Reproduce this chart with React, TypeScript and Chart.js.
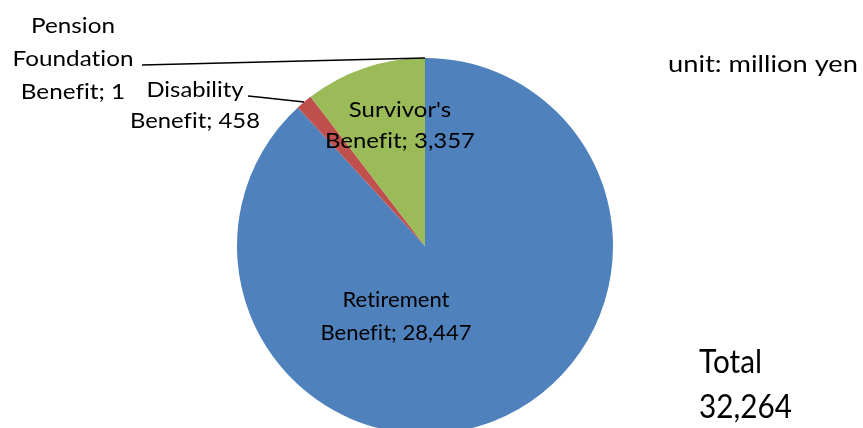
import React, { useEffect, useRef } from "react";
import { Chart, registerables } from "chart.js";

Chart.register(...registerables);

// ---- data ----
const categories = [
  "Retirement Benefit",
  "Disability Benefit",
  "Survivor's Benefit",
  "Pension Foundation Benefit",
];
const values = [28447, 458, 3357, 1];
const colors = ["#4F81BD", "#C0504D", "#9BBB59", "#8064A2"];
const totalLines = ["Total", "32,264"];
const unitText = "unit: million yen";

// ---- layout / style ----
const FONT = "Lato, 'Open Sans', sans-serif";
const W = 863;
const H = 450;

type Layout = {
  cx: number;
  baselines: number[];
  words: number[];
  size: number;
  fitWidth: number;
  leader: number[][] | null;
};

const labelLayout: Layout[] = [
  { cx: 396, baselines: [306.5, 339.5], words: [1, 2], size: 21, fitWidth: 151, leader: null },
  { cx: 195, baselines: [96.5, 128], words: [1, 2], size: 22, fitWidth: 130, leader: [[248, 96], [258, 97]] },
  { cx: 400, baselines: [117, 147.5], words: [1, 2], size: 22, fitWidth: 150, leader: null },
  { cx: 73, baselines: [32.5, 66, 99], words: [1, 1, 2], size: 22, fitWidth: 121, leader: [[142, 65]] },
];

function splitLines(text: string, counts: number[]): string[] {
  const words = text.split(" ");
  const out: string[] = [];
  let i = 0;
  counts.forEach((c, k) => {
    const n = k === counts.length - 1 ? words.length - i : c;
    out.push(words.slice(i, i + n).join(" "));
    i += n;
  });
  return out;
}

function setup(ctx: any, size: number) {
  ctx.font = `${size}px ${FONT}`;
  try {
    ctx.textRendering = "optimizeSpeed";
    ctx.letterSpacing = "0.01px";
  } catch (e) {}
}

// draws lines with a horizontal scale so the widest line matches the target width
function drawBlock(
  ctx: CanvasRenderingContext2D,
  lines: string[],
  x: number,
  baselines: number[],
  size: number,
  target: number,
  align: "center" | "left"
) {
  setup(ctx, size);
  const w = Math.max(...lines.map((l) => ctx.measureText(l).width));
  const sx = target / w;
  ctx.textAlign = align;
  lines.forEach((l, k) => {
    ctx.save();
    ctx.translate(x, baselines[k]);
    ctx.scale(sx, 1);
    ctx.fillText(l, 0, 0);
    ctx.restore();
  });
}

const labelPlugin = {
  id: "customLabels",
  afterDatasetsDraw(chart: any) {
    const ctx: CanvasRenderingContext2D = chart.ctx;
    const meta = chart.getDatasetMeta(0);
    ctx.save();
    ctx.fillStyle = "#000";
    ctx.textBaseline = "alphabetic";
    meta.data.forEach((arc: any, i: number) => {
      const lay = labelLayout[i];
      if (!lay) return;
      const text = `${categories[i]}; ${values[i].toLocaleString("en-US")}`;
      const lines = splitLines(text, lay.words);
      if (lay.leader) {
        const p = arc.getProps(["x", "y", "startAngle", "endAngle", "outerRadius"], true);
        const mid = (p.startAngle + p.endAngle) / 2;
        const ex = p.x + Math.cos(mid) * p.outerRadius;
        const ey = p.y + Math.sin(mid) * p.outerRadius;
        ctx.beginPath();
        ctx.strokeStyle = "#000";
        ctx.lineWidth = 1.6;
        ctx.moveTo(lay.leader[0][0], lay.leader[0][1]);
        for (let k = 1; k < lay.leader.length; k++) ctx.lineTo(lay.leader[k][0], lay.leader[k][1]);
        ctx.lineTo(ex, ey);
        ctx.stroke();
      }
      drawBlock(ctx, lines, lay.cx, lay.baselines, lay.size, lay.fitWidth, "center");
    });

    drawBlock(ctx, [unitText], 668, [72], 23, 190, "left");
    drawBlock(ctx, totalLines, 699, [372.5, 417.5], 32, 93, "left");
    ctx.restore();
  },
};

export default function App() {
  const ref = useRef<HTMLCanvasElement | null>(null);
  useEffect(() => {
    if (!ref.current) return;
    const chart = new Chart(ref.current, {
      type: "pie",
      data: {
        labels: categories,
        datasets: [
          {
            data: values,
            backgroundColor: colors,
            borderWidth: 0,
          },
        ],
      },
      options: {
        animation: false,
        responsive: false,
        maintainAspectRatio: false,
        layout: { padding: { left: 237, right: W - 613, top: 58, bottom: H - 434 } },
        plugins: {
          legend: { display: false },
          tooltip: { enabled: false },
        },
      },
      plugins: [labelPlugin],
    });
    return () => chart.destroy();
  }, []);
  return (
    <div
      style={{
        position: "fixed",
        left: 0,
        top: 0,
        width: W,
        height: 428,
        overflow: "hidden",
        background: "#fff",
      }}
    >
      <canvas ref={ref} width={W} height={H} style={{ width: W, height: H, display: "block" }} />
    </div>
  );
}
